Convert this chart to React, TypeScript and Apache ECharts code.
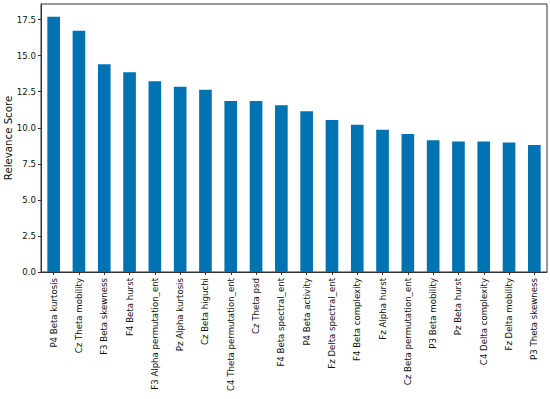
import React, { useEffect, useRef } from "react";
import * as echarts from "echarts";

const categories = [
  "P4 Beta kurtosis",
  "Cz Theta mobility",
  "F3 Beta skewness",
  "F4 Beta hurst",
  "F3 Alpha permutation_ent",
  "Pz Alpha kurtosis",
  "Cz Beta higuchi",
  "C4 Theta permutation_ent",
  "Cz Theta psd",
  "F4 Beta spectral_ent",
  "P4 Beta activity",
  "Fz Delta spectral_ent",
  "F4 Beta complexity",
  "Fz Alpha hurst",
  "Cz Beta permutation_ent",
  "P3 Beta mobility",
  "Pz Beta hurst",
  "C4 Delta complexity",
  "Fz Delta mobility",
  "P3 Theta skewness",
];

const relevance = [
  17.7, 16.72, 14.4, 13.85, 13.22, 12.85, 12.64, 11.86, 11.86, 11.56,
  11.15, 10.53, 10.2, 9.86, 9.57, 9.13, 9.04, 9.04, 8.97, 8.8,
];

const yTitle = "Relevance Score";
const yMax = 18.58;
const yInterval = 2.5;

const FONT = "DejaVu Sans";

export default function App() {
  const ref = useRef<HTMLDivElement>(null);
  useEffect(() => {
    if (!ref.current) return;
    const chart = echarts.init(ref.current, null, { renderer: "svg" });
    chart.setOption({
      animation: false,
      backgroundColor: "#ffffff",
      grid: {
        left: 41,
        right: 3,
        top: 4,
        bottom: 127,
        show: true,
        borderColor: "#333333",
        borderWidth: 1,
        containLabel: false,
        outerBoundsMode: "none",
      },
      graphic: [
        {
          type: "text",
          x: 8,
          y: 138,
          rotation: Math.PI / 2,
          style: {
            text: yTitle,
            fontSize: 10.2,
            fontFamily: FONT,
            fill: "#111111",
            align: "center",
            verticalAlign: "middle",
          },
        },
      ],
      xAxis: {
        type: "category",
        data: categories,
        boundaryGap: true,
        axisLine: { show: true, lineStyle: { color: "#333333", width: 1 } },
        axisTick: { show: true, alignWithLabel: true, length: 3, lineStyle: { color: "#333333" } },
        axisLabel: {
          rotate: 90,
          interval: 0,
          margin: 6,
          fontSize: 8.6,
          fontFamily: FONT,
          color: "#111111",
        },
        splitLine: { show: false },
      },
      yAxis: {
        type: "value",
        min: 0,
        max: yMax,
        interval: yInterval,
        axisLine: { show: true, lineStyle: { color: "#333333", width: 1 } },
        axisTick: { show: true, length: 3, lineStyle: { color: "#333333" } },
        axisLabel: {
          margin: 5,
          fontSize: 8.6,
          fontFamily: FONT,
          color: "#111111",
          showMaxLabel: false,
          formatter: (v: number) =>
            Math.abs(v / yInterval - Math.round(v / yInterval)) < 1e-6 ? v.toFixed(1) : "",
        },
        splitLine: { show: false },
      },
      series: [
        {
          type: "bar",
          data: relevance,
          barWidth: "50%",
          itemStyle: { color: "#0173b2" },
        },
      ],
    });
    return () => chart.dispose();
  }, []);
  return (
    <div
      ref={ref}
      style={{ position: "fixed", left: 0, top: 0, width: 550, height: 399 }}
    />
  );
}
